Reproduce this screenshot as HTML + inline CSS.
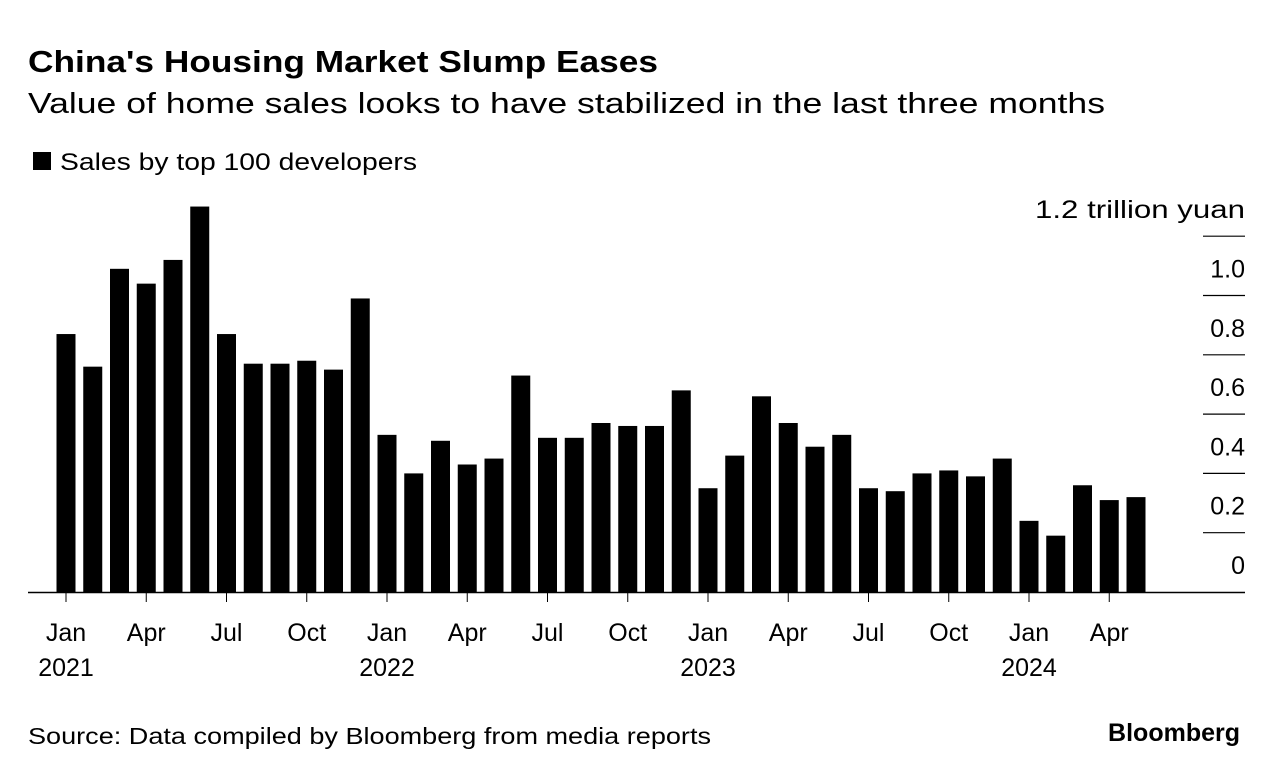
<!DOCTYPE html>
<html><head><meta charset="utf-8"><style>
body{margin:0;background:#fff;font-family:"Liberation Sans",sans-serif;}
svg text{font-family:"Liberation Sans",sans-serif;fill:#000;}
</style></head><body>
<svg width="1279" height="776">
<text x="28" y="72" font-size="31" font-weight="bold" textLength="630" lengthAdjust="spacingAndGlyphs">China's Housing Market Slump Eases</text>
<text x="28" y="113" font-size="29" textLength="1077" lengthAdjust="spacingAndGlyphs">Value of home sales looks to have stabilized in the last three months</text>
<rect x="33" y="152" width="18" height="18" fill="#000"></rect>
<text x="60" y="170" font-size="24" textLength="357" lengthAdjust="spacingAndGlyphs">Sales by top 100 developers</text>
<g id="yaxis"></g>
<g id="bars"></g>
<line x1="28" x2="1245" y1="592.5" y2="592.5" stroke="#000" stroke-width="1.5"></line>
<g id="xaxis"></g>
<text x="28" y="744" font-size="23" textLength="683" lengthAdjust="spacingAndGlyphs">Source: Data compiled by Bloomberg from media reports</text>
<text x="1240" y="741" font-size="25" font-weight="bold" text-anchor="end">Bloomberg</text>
</svg>
<script>
const values=[0.87,0.76,1.09,1.04,1.12,1.30,0.87,0.77,0.77,0.78,0.75,0.99,
0.53,0.40,0.51,0.43,0.45,0.73,0.52,0.52,0.57,0.56,0.56,0.68,
0.35,0.46,0.66,0.57,0.49,0.53,0.35,0.34,0.40,0.41,0.39,0.45,
0.24,0.19,0.36,0.31,0.32];
const yTicks=[0,0.2,0.4,0.6,0.8,1.0,1.2];
const yTickLabels=["0","0.2","0.4","0.6","0.8","1.0","1.2 trillion yuan"];
const xTickIdx=[0,3,6,9,12,15,18,21,24,27,30,33,36,39];
const xTickLabels=["Jan","Apr","Jul","Oct","Jan","Apr","Jul","Oct","Jan","Apr","Jul","Oct","Jan","Apr"];
const yearLabels={0:"2021",12:"2022",24:"2023",36:"2024"};
const NS="http://www.w3.org/2000/svg";
const y=v=>592-v*296.5;
const x=i=>66+i*26.75;
const bw=19;
const bars=document.getElementById('bars');
values.forEach((v,i)=>{const r=document.createElementNS(NS,'rect');
r.setAttribute('x',x(i)-bw/2);r.setAttribute('y',y(v));r.setAttribute('width',bw);r.setAttribute('height',592-y(v));r.setAttribute('fill','#000');


bars.appendChild(r);});
const ya=document.getElementById('yaxis');
yTicks.forEach((t,k)=>{
if(t>0){const l=document.createElementNS(NS,'line');l.setAttribute('x1',1203);l.setAttribute('x2',1245);l.setAttribute('y1',y(t));l.setAttribute('y2',y(t));l.setAttribute('stroke','#000');l.setAttribute('stroke-width','1.2');


ya.appendChild(l);}
const tx=document.createElementNS(NS,'text');tx.setAttribute('x',1245);tx.setAttribute('y',y(t)-18);tx.setAttribute('text-anchor','end');tx.setAttribute('font-size','25');tx.textContent=yTickLabels[k];
if(k===yTicks.length-1){tx.setAttribute('textLength','210');tx.setAttribute('lengthAdjust','spacingAndGlyphs');}


ya.appendChild(tx);});
const xa=document.getElementById('xaxis');
xTickIdx.forEach((i,k)=>{
const l=document.createElementNS(NS,'line');l.setAttribute('x1',x(i));l.setAttribute('x2',x(i));l.setAttribute('y1',592);l.setAttribute('y2',602);l.setAttribute('stroke','#000');


xa.appendChild(l);
const tx=document.createElementNS(NS,'text');tx.setAttribute('x',x(i));tx.setAttribute('y',641);tx.setAttribute('text-anchor','middle');tx.setAttribute('font-size','25');tx.textContent=xTickLabels[k];


xa.appendChild(tx);
if(yearLabels[i]){const ty=document.createElementNS(NS,'text');ty.setAttribute('x',x(i));ty.setAttribute('y',676);ty.setAttribute('text-anchor','middle');ty.setAttribute('font-size','25');ty.textContent=yearLabels[i];


xa.appendChild(ty);}
});
</script>
</body></html>
